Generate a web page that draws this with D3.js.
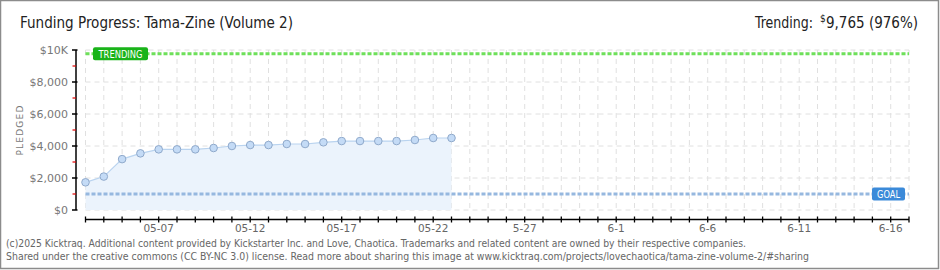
<!DOCTYPE html>
<html>
<head>
<meta charset="utf-8">
<script src="https://cdn.jsdelivr.net/npm/d3@7"></script>
<style>
  body { margin: 0; background: #fff; }
  svg { display: block; }
</style>
</head>
<body>
<svg id="chart" width="940" height="270"></svg>
<script>
// pledged per day, 05-03 .. 05-23
var days = ["2025-05-03", "2025-05-04", "2025-05-05", "2025-05-06", "2025-05-07", "2025-05-08",
    "2025-05-09", "2025-05-10", "2025-05-11", "2025-05-12", "2025-05-13", "2025-05-14",
    "2025-05-15", "2025-05-16", "2025-05-17", "2025-05-18", "2025-05-19", "2025-05-20",
    "2025-05-21", "2025-05-22", "2025-05-23"];
var pledged = [1730, 2090, 3180, 3540, 3790, 3790, 3790, 3875, 4000, 4060, 4060, 4125,
    4125, 4230, 4310, 4310, 4310, 4310, 4375, 4500, 4500];

var campaignStart = "2025-05-03";
var campaignEnd = "2025-06-17";
var goal = 1000;
var trending = 9765;
var trendingPct = 976;

var yTicks = [0, 2000, 4000, 6000, 8000, 10000];
var yTickLabels = ["$0", "$2,000", "$4,000", "$6,000", "$8,000", "$10K"];
var yMinorTicks = [1000, 3000, 5000, 7000, 9000];
var xLabelDays = ["2025-05-07", "2025-05-12", "2025-05-17", "2025-05-22", "2025-05-27",
    "2025-06-01", "2025-06-06", "2025-06-11", "2025-06-16"];
var xLabels = ["05-07", "05-12", "05-17", "05-22", "5-27", "6-1", "6-6", "6-11", "6-16"];

var parse = d3.utcParse("%Y-%m-%d");
var svg = d3.select("#chart");

var x = d3.scaleUtc()
    .domain([parse(campaignStart), parse(campaignEnd)])
    .range([85.5, 909]);
var y = d3.scaleLinear()
    .domain([0, 10000])
    .range([210, 50]);

var font = "'DejaVu Sans', sans-serif";
var narrow = "'DejaVu Sans Condensed', sans-serif";

// frame
svg.append("rect")
    .attr("x", 0.5).attr("y", 0.5)
    .attr("width", 938).attr("height", 268)
    .attr("fill", "#fff")
    .attr("stroke", "#8c8c8c")
    .attr("stroke-width", 1.5);

// title
svg.append("text")
    .attr("x", 20).attr("y", 28)
    .attr("font-family", narrow)
    .attr("font-size", 16)
    .attr("textLength", 273)
    .attr("lengthAdjust", "spacingAndGlyphs")
    .attr("fill", "#222")
    .text("Funding Progress: Tama-Zine (Volume 2)");

svg.append("text")
    .attr("x", 755).attr("y", 28)
    .attr("font-family", narrow)
    .attr("font-size", 16)
    .attr("textLength", 58)
    .attr("lengthAdjust", "spacingAndGlyphs")
    .attr("fill", "#222")
    .text("Trending:");
svg.append("text")
    .attr("x", 820).attr("y", 22)
    .attr("font-family", narrow)
    .attr("font-size", 10)
    .attr("fill", "#222")
    .text("$");
svg.append("text")
    .attr("x", 918).attr("y", 28)
    .attr("text-anchor", "end")
    .attr("font-family", narrow)
    .attr("font-size", 16)
    .attr("textLength", 92)
    .attr("lengthAdjust", "spacingAndGlyphs")
    .attr("fill", "#222")
    .text(d3.format(",")(trending) + " (" + trendingPct + "%)");

// grid
var allDays = d3.utcDay.range(parse(campaignStart), d3.utcDay.offset(parse(campaignEnd), 1));
var grid = svg.append("g")
    .attr("stroke", "#e0e0e0")
    .attr("stroke-dasharray", "5,4");
grid.selectAll("line.v")
    .data(allDays)
    .enter().append("line")
    .attr("x1", function(d) { return x(d); })
    .attr("x2", function(d) { return x(d); })
    .attr("y1", y(10000)).attr("y2", y(0));
grid.selectAll("line.h")
    .data(yTicks)
    .enter().append("line")
    .attr("x1", x(parse(campaignStart))).attr("x2", x(parse(campaignEnd)))
    .attr("y1", function(d) { return y(d); })
    .attr("y2", function(d) { return y(d); });

// pledged area + line
var series = days.map(function(d, i) { return { date: parse(d), value: pledged[i] }; });
svg.append("path")
    .datum(series)
    .attr("fill", "#ebf3fc")
    .attr("d", d3.area()
        .x(function(d) { return x(d.date); })
        .y0(y(0))
        .y1(function(d) { return y(d.value); }));
svg.append("path")
    .datum(series)
    .attr("fill", "none")
    .attr("stroke", "#b9d3ef")
    .attr("stroke-width", 1.2)
    .attr("d", d3.line()
        .x(function(d) { return x(d.date); })
        .y(function(d) { return y(d.value); }));

// goal and trending lines
function levelLine(value, color) {
    svg.append("line")
        .attr("x1", x(parse(campaignStart))).attr("x2", x(parse(campaignEnd)))
        .attr("y1", y(value)).attr("y2", y(value))
        .attr("stroke", color)
        .attr("stroke-width", 3)
        .attr("stroke-dasharray", "4,2");
}
levelLine(goal, "#96b8df");
levelLine(trending, "#6ee05a");

// points
svg.append("g").selectAll("circle")
    .data(series)
    .enter().append("circle")
    .attr("cx", function(d) { return x(d.date); })
    .attr("cy", function(d) { return y(d.value); })
    .attr("r", 3.8)
    .attr("fill", "#c4dbf6")
    .attr("stroke", "#8fa9cb")
    .attr("stroke-width", 1);

// flag labels
function flag(text, x0, yc, w, tw, color) {
    svg.append("rect")
        .attr("x", x0).attr("y", yc - 6.5)
        .attr("width", w).attr("height", 13)
        .attr("rx", 2)
        .attr("fill", color);
    svg.append("text")
        .attr("x", x0 + (w - tw) / 2).attr("y", yc + 4)
        .attr("font-family", narrow)
        .attr("font-size", 10)
        .attr("textLength", tw)
        .attr("lengthAdjust", "spacingAndGlyphs")
        .attr("fill", "#fff")
        .text(text);
}
flag("TRENDING", 93, y(trending), 55, 44, "#19b319");
flag("GOAL", 872, y(goal), 33, 23, "#3b8ad9");

// y axis
var yAxis = svg.append("g");
yAxis.append("line")
    .attr("x1", 76).attr("x2", 76)
    .attr("y1", y(10000)).attr("y2", y(0))
    .attr("stroke", "#000").attr("stroke-width", 1.5);
yAxis.selectAll("line.major")
    .data(yTicks)
    .enter().append("line")
    .attr("x1", 72).attr("x2", 77.5)
    .attr("y1", function(d) { return y(d); })
    .attr("y2", function(d) { return y(d); })
    .attr("stroke", "#000").attr("stroke-width", 1.5);
yAxis.selectAll("line.minor")
    .data(yMinorTicks)
    .enter().append("line")
    .attr("x1", 72.5).attr("x2", 76)
    .attr("y1", function(d) { return y(d); })
    .attr("y2", function(d) { return y(d); })
    .attr("stroke", "#e00000").attr("stroke-width", 1.2);
yAxis.selectAll("text")
    .data(yTicks)
    .enter().append("text")
    .attr("x", 68)
    .attr("y", function(d) { return y(d) + 4; })
    .attr("text-anchor", "end")
    .attr("font-family", font)
    .attr("font-size", 11)
    .attr("fill", "#777")
    .text(function(d, i) { return yTickLabels[i]; });

svg.append("text")
    .attr("transform", "translate(23,130) rotate(-90)")
    .attr("text-anchor", "middle")
    .attr("font-family", font)
    .attr("font-size", 9)
    .attr("letter-spacing", 1.2)
    .attr("fill", "#777")
    .text("PLEDGED");

// x axis
var xAxis = svg.append("g");
xAxis.append("line")
    .attr("x1", x(parse(campaignStart))).attr("x2", x(parse(campaignEnd)))
    .attr("y1", 219.5).attr("y2", 219.5)
    .attr("stroke", "#000").attr("stroke-width", 1.5);
xAxis.selectAll("line.tick")
    .data(allDays)
    .enter().append("line")
    .attr("x1", function(d) { return x(d); })
    .attr("x2", function(d) { return x(d); })
    .attr("y1", 216.5).attr("y2", 222.5)
    .attr("stroke", "#000").attr("stroke-width", 1.3);
xAxis.selectAll("text")
    .data(xLabelDays)
    .enter().append("text")
    .attr("x", function(d) { return x(parse(d)); })
    .attr("y", 232)
    .attr("text-anchor", "middle")
    .attr("font-family", font)
    .attr("font-size", 10.5)
    .attr("fill", "#666")
    .text(function(d, i) { return xLabels[i]; });

// footer
var footer = [
    "(c)2025 Kicktraq. Additional content provided by Kickstarter Inc. and Love, Chaotica. Trademarks and related content are owned by their respective companies.",
    "Shared under the creative commons (CC BY-NC 3.0) license. Read more about sharing this image at www.kicktraq.com/projects/lovechaotica/tama-zine-volume-2/#sharing"
];
var footerWidths = [740, 803];
svg.selectAll("text.footer")
    .data(footer)
    .enter().append("text")
    .attr("class", "footer")
    .attr("x", 6)
    .attr("y", function(d, i) { return 247 + i * 13; })
    .attr("font-family", narrow)
    .attr("font-size", 10)
    .attr("textLength", function(d, i) { return footerWidths[i]; })
    .attr("lengthAdjust", "spacingAndGlyphs")
    .attr("fill", "#666")
    .text(function(d) { return d; });
</script>
</body>
</html>
